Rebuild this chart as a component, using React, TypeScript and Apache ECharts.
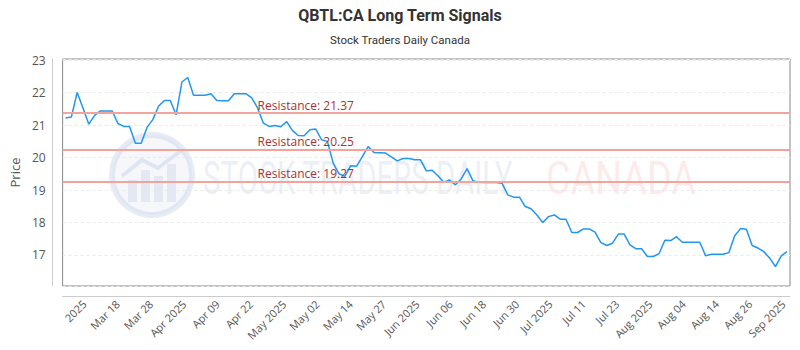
import React, { useEffect, useRef } from "react";
import * as echarts from "echarts";

const titleText = "QBTL:CA Long Term Signals";
const subtitleText = "Stock Traders Daily Canada";

const prices = [
  21.22, 21.25, 22.01, 21.53, 21.03, 21.3, 21.44, 21.44, 21.44, 21.05,
  20.96, 20.96, 20.44, 20.44, 20.93, 21.17, 21.59, 21.76, 21.76, 21.32,
  22.33, 22.47, 21.92, 21.92, 21.92, 21.97, 21.76, 21.75, 21.75, 21.97,
  21.97, 21.97, 21.84, 21.53, 21.06, 20.96, 20.99, 20.95, 21.11, 20.83,
  20.68, 20.67, 20.86, 20.88, 20.55, 20.5, 19.83, 19.5, 19.42, 19.75,
  19.73, 20.03, 20.34, 20.16, 20.15, 20.14, 20.02, 19.9, 19.97, 19.97,
  19.93, 19.93, 19.59, 19.61, 19.44, 19.24, 19.31, 19.16, 19.34, 19.66,
  19.29, 19.24, 19.23, 19.23, 19.23, 19.21, 18.85, 18.78, 18.78, 18.49,
  18.42, 18.23, 18.0, 18.18, 18.23, 18.1, 18.1, 17.69, 17.69, 17.8,
  17.8, 17.7, 17.38, 17.29, 17.36, 17.64, 17.64, 17.31, 17.19, 17.19,
  16.95, 16.95, 17.04, 17.45, 17.44, 17.56, 17.39, 17.39, 17.39, 17.39,
  16.97, 17.02, 17.02, 17.02, 17.07, 17.59, 17.81, 17.79, 17.29, 17.21,
  17.1, 16.9, 16.64, 16.97, 17.1,
];

const tickLabels = [
  "2025", "Mar 18", "Mar 28", "Apr 2025", "Apr 09", "Apr 22", "May 2025",
  "May 02", "May 14", "May 27", "Jun 2025", "Jun 06", "Jun 18", "Jun 30",
  "Jul 2025", "Jul 11", "Jul 23", "Aug 2025", "Aug 04", "Aug 14", "Aug 26",
  "Sep 2025",
];

const resistanceLevels = [21.37, 20.25, 19.27];

const yMin = 16.04;
const yMax = 23.04;

function buildTradingDays(start: string, count: number): string[] {
  const out: string[] = [];
  const d = new Date(start + "T00:00:00Z");
  while (out.length < count) {
    const wd = d.getUTCDay();
    if (wd !== 0 && wd !== 6) out.push(d.toISOString().slice(0, 10));
    d.setUTCDate(d.getUTCDate() + 1);
  }
  return out;
}

const categories = buildTradingDays("2025-03-03", prices.length);

// label axis: fine slots so the tick labels sit where the reference places them
const LABEL_SLOTS = 438;
const LABEL_START = 13;
const LABEL_STEP = 20;
const labelSlots = Array.from({ length: LABEL_SLOTS }, (_, i) => String(i));

function slotLabel(i: number): string {
  if (i < LABEL_START || (i - LABEL_START) % LABEL_STEP !== 0) return "";
  const k = (i - LABEL_START) / LABEL_STEP;
  return tickLabels[k] ?? "";
}

export default function App() {
  const ref = useRef<HTMLDivElement>(null);

  useEffect(() => {
    if (!ref.current) return;
    const chart = echarts.init(ref.current, undefined, { renderer: "svg" });
    const font = "Open Sans";
    const option: any = {
      animation: false,
      textStyle: { fontFamily: font },
      title: {
        text: titleText,
        subtext: subtitleText,
        left: "center",
        top: 7,
        padding: 0,
        itemGap: 11,
        textStyle: { fontSize: 16, fontWeight: "bold", color: "#333", fontFamily: "Roboto" },
        subtextStyle: { fontSize: 11.5, color: "#333", fontFamily: "Roboto" },
      },
      grid: {
        left: 60,
        right: 10,
        top: 59,
        bottom: 64,
        show: true,
        borderColor: "#888",
        borderWidth: 1,
        backgroundColor: "transparent",
      },
      xAxis: [
        {
          type: "category",
          data: categories,
          boundaryGap: true,
          axisLine: { show: false },
          axisTick: { show: false },
          axisLabel: { show: false },
          splitLine: { show: false },
        },
        {
          type: "category",
          data: labelSlots,
          boundaryGap: false,
          position: "bottom",
          offset: 10,
          axisLine: { show: true, lineStyle: { color: "#ccc", width: 1 } },
          axisTick: { show: false },
          splitLine: { show: false },
          axisLabel: {
            interval: (i: number) => slotLabel(i) !== "",
            formatter: (v: string) => slotLabel(Number(v)),
            rotate: 45,
            color: "#555",
            fontSize: 11,
            margin: 6,
            fontFamily: font,
          },
        },
      ],
      yAxis: {
        type: "value",
        min: yMin,
        max: yMax,
        splitNumber: 7,
        offset: 10,
        name: "Price",
        nameLocation: "middle",
        nameGap: 27,
        nameTextStyle: { fontSize: 13, color: "#555", fontFamily: font },
        axisLine: { show: true, lineStyle: { color: "#ccc", width: 1 } },
        axisTick: { show: false },
        axisLabel: {
          color: "#555",
          fontSize: 12,
          margin: 7,
          fontFamily: font,
          formatter: (v: number) =>
            Math.abs(v - Math.round(v)) < 1e-6 ? String(Math.round(v)) : "",
        },
        splitLine: { show: true, lineStyle: { type: [3, 3], color: "#e8e8e8", width: 1 } },
      },
      graphic: [
        {
          type: "group",
          silent: true,
          z: 0,
          children: [
            {
              type: "circle",
              shape: { cx: 152, cy: 175, r: 40 },
              style: { fill: "rgba(225,231,243,0.35)", stroke: "rgba(200,210,232,0.45)", lineWidth: 6 },
            },
            { type: "rect", shape: { x: 128, y: 180, width: 9, height: 22 }, style: { fill: "rgba(200,210,232,0.4)" } },
            { type: "rect", shape: { x: 141, y: 170, width: 9, height: 32 }, style: { fill: "rgba(200,210,232,0.4)" } },
            { type: "rect", shape: { x: 154, y: 176, width: 9, height: 26 }, style: { fill: "rgba(200,210,232,0.4)" } },
            { type: "rect", shape: { x: 167, y: 164, width: 9, height: 38 }, style: { fill: "rgba(200,210,232,0.4)" } },
            {
              type: "polyline",
              shape: { points: [[122, 176], [142, 160], [158, 168], [182, 150]] },
              style: { stroke: "rgba(200,210,232,0.5)", lineWidth: 4, fill: null },
            },
            {
              type: "text",
              x: 203,
              y: 178,
              scaleX: 0.64,
              style: {
                text: "STOCK TRADERS DAILY",
                font: "46px Roboto",
                fill: "rgba(190,200,222,0.28)",
                textAlign: "left",
                textVerticalAlign: "middle",
              },
            },
            {
              type: "text",
              x: 546,
              y: 178,
              scaleX: 0.82,
              style: {
                text: "CANADA",
                font: "46px Roboto",
                fill: "rgba(245,130,130,0.18)",
                textAlign: "left",
                textVerticalAlign: "middle",
              },
            },
          ],
        },
      ],
      series: [
        {
          type: "line",
          xAxisIndex: 0,
          yAxisIndex: 0,
          data: prices,
          showSymbol: false,
          symbol: "none",
          z: 3,
          lineStyle: { color: "#2196f3", width: 1.5 },
          markLine: {
            silent: true,
            symbol: "none",
            animation: false,
            lineStyle: { color: "#f3a29c", width: 2, type: "solid" },
            label: {
              show: true,
              position: "insideStartTop",
              distance: [195, 2],
              color: "#a83232",
              fontSize: 12,
              fontFamily: font,
              formatter: (p: any) => "Resistance: " + Number(p.value).toFixed(2),
            },
            data: resistanceLevels.map((v) => ({ yAxis: v })),
          },
        },
      ],
    };
    chart.setOption(option);
    return () => chart.dispose();
  }, []);

  return (
    <div
      ref={ref}
      style={{ position: "fixed", left: 0, top: 0, width: 800, height: 350, background: "#fff" }}
    />
  );
}
